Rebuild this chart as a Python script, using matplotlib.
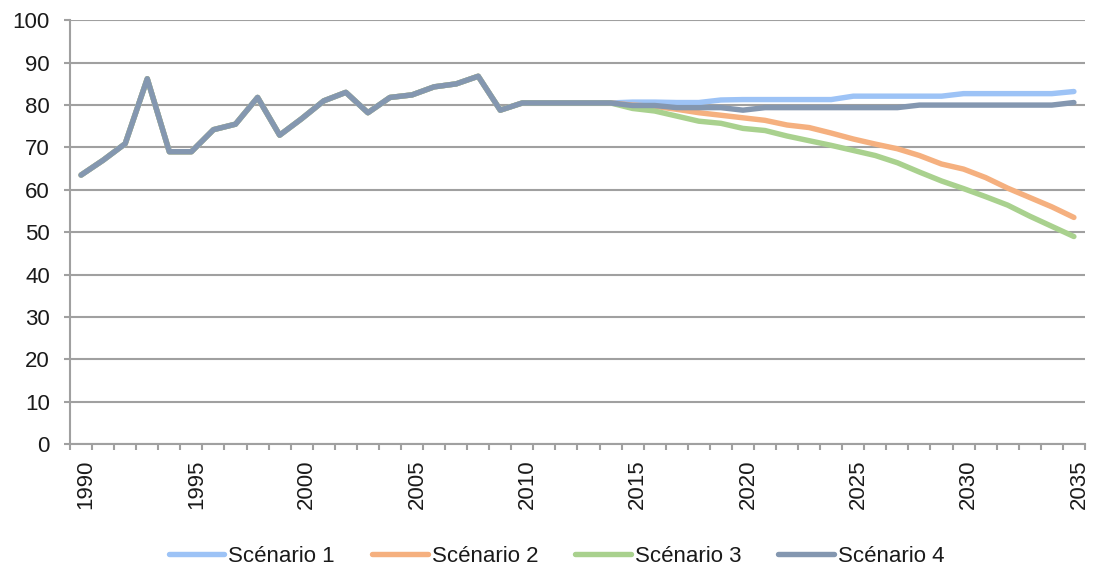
import matplotlib
matplotlib.use("Agg")
import matplotlib.pyplot as plt
import matplotlib.transforms as mtransforms

plt.rcParams["font.family"] = ["Liberation Sans", "DejaVu Sans"]

years = list(range(1990, 2036))

# observed 1990-2014, shared by every scenario
hist = [63.5, 67.0, 70.9, 86.2, 69.0, 69.0, 74.2, 75.5, 81.8, 72.9,
        76.8, 81.0, 83.0, 78.2, 81.8, 82.4, 84.3, 85.0, 86.8, 78.8,
        80.5, 80.5, 80.5, 80.5, 80.5]

# projections 2015-2035
proj_s1 = [80.7, 80.7, 80.6, 80.6, 81.2, 81.3, 81.3, 81.3, 81.3, 81.3,
           82.1, 82.1, 82.1, 82.1, 82.1, 82.7, 82.7, 82.7, 82.7, 82.7, 83.2]
proj_s2 = [80.0, 79.7, 79.0, 78.2, 77.6, 77.0, 76.4, 75.3, 74.7, 73.4,
           72.0, 70.8, 69.7, 68.1, 66.1, 64.9, 62.9, 60.4, 58.2, 56.0, 53.5]
proj_s3 = [79.2, 78.6, 77.4, 76.2, 75.7, 74.5, 74.0, 72.7, 71.6, 70.5,
           69.3, 68.1, 66.4, 64.2, 62.1, 60.3, 58.4, 56.4, 53.8, 51.4, 49.0]
proj_s4 = [79.9, 79.9, 79.4, 79.4, 79.4, 78.8, 79.4, 79.4, 79.4, 79.4,
           79.4, 79.4, 79.4, 80.0, 80.0, 80.0, 80.0, 80.0, 80.0, 80.0, 80.6]

labels = ["Scénario 1", "Scénario 2", "Scénario 3", "Scénario 4"]
colors = ["#9dc3f6", "#f5b07f", "#a9d18e", "#8497b0"]
series = [hist + proj_s1, hist + proj_s2, hist + proj_s3, hist + proj_s4]

fig = plt.figure(figsize=(10.98, 5.68), dpi=100)
ax = fig.add_axes([0.0638, 0.2178, 0.9243, 0.7465])

handles = []
for vals, col, lab in zip(series, colors, labels):
    h, = ax.plot(years, vals, color=col, lw=3.9, label=lab,
                 solid_capstyle="round", solid_joinstyle="round", zorder=3)
    handles.append(h)

grid_col = "#a0a0a0"
txt_col = "#1a1a1a"
ax.set_ylim(0, 100)
ax.set_yticks(range(0, 101, 10))
ax.set_xlim(1989.5, 2035.5)
ax.yaxis.grid(True, color=grid_col, lw=1.5, zorder=0)
ax.set_axisbelow(True)
for s in ["top", "right"]:
    ax.spines[s].set_visible(False)
for s in ["left", "bottom"]:
    ax.spines[s].set_color(grid_col)
    ax.spines[s].set_linewidth(1.5)

# category labels every 5 years, tick marks on category boundaries
ax.set_xticks(range(1990, 2036, 5))
ax.set_xticklabels([str(y) for y in range(1990, 2036, 5)], rotation=90)
ax.set_xticks([y - 0.5 for y in range(1990, 2037)], minor=True)
ax.tick_params(axis="x", which="major", length=0, pad=11, labelsize=16,
               labelcolor=txt_col)
ax.tick_params(axis="x", which="minor", length=4, width=1.5, color=grid_col)
ax.tick_params(axis="y", length=4.5, width=1.5, color=grid_col, pad=10,
               labelsize=16, labelcolor=txt_col)
shift = mtransforms.ScaledTranslation(5 / 100, 0, fig.dpi_scale_trans)
for t in ax.get_xticklabels():
    t.set_transform(t.get_transform() + shift)

fig.legend(handles=handles, loc="center", bbox_to_anchor=(0.507, 0.021),
           ncol=4, frameon=False, fontsize=16, handlelength=2.5,
           handletextpad=0.18, columnspacing=1.67, labelcolor=txt_col)

fig.savefig("out.png", dpi=100)
